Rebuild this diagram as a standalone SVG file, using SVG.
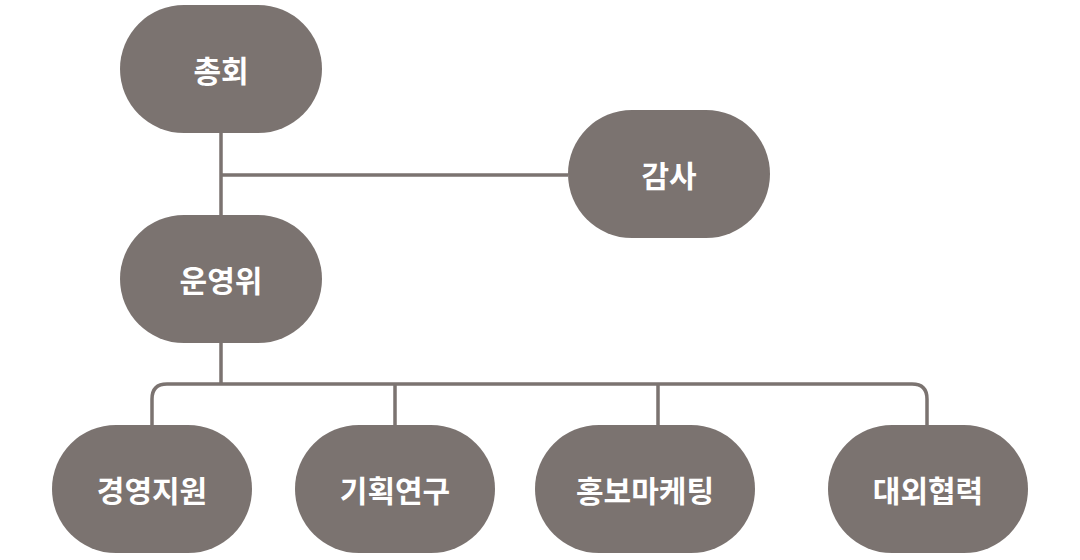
<svg xmlns="http://www.w3.org/2000/svg" width="1080" height="560" viewBox="0 0 1080 560">
<style>
.n{fill:#7b7370}
.t{fill:#fff;font-family:"Noto Sans CJK KR","Noto Sans",sans-serif;font-weight:bold;font-size:30px;text-anchor:middle;dominant-baseline:central}
.c{fill:none;stroke:#7b7370;stroke-width:3.5}
</style>
<rect width="1080" height="560" fill="#fff"/>
<g id="connectors">
<path class="c" d="M221 133V215M221 175H568M221 343V384M152 425V399Q152 384 167 384H912Q927 384 927 399V425M395 384V425M658 384V425"/>
</g>
<g id="n1"><rect class="n" x="120" y="5" width="202" height="128" rx="64"/><text class="t" x="221" y="69">총회</text></g>
<g id="n2"><rect class="n" x="568" y="110" width="202" height="128" rx="64"/><text class="t" x="669" y="174">감사</text></g>
<g id="n3"><rect class="n" x="120" y="215" width="202" height="128" rx="64"/><text class="t" x="221" y="279">운영위</text></g>
<g id="n4"><rect class="n" x="52" y="425" width="200" height="128" rx="64"/><text class="t" x="152" y="489">경영지원</text></g>
<g id="n5"><rect class="n" x="295" y="425" width="200" height="128" rx="64"/><text class="t" x="395" y="489">기획연구</text></g>
<g id="n6"><rect class="n" x="535" y="425" width="220" height="128" rx="64"/><text class="t" x="645" y="489">홍보마케팅</text></g>
<g id="n7"><rect class="n" x="828" y="425" width="200" height="128" rx="64"/><text class="t" x="928" y="489">대외협력</text></g>
</svg>
